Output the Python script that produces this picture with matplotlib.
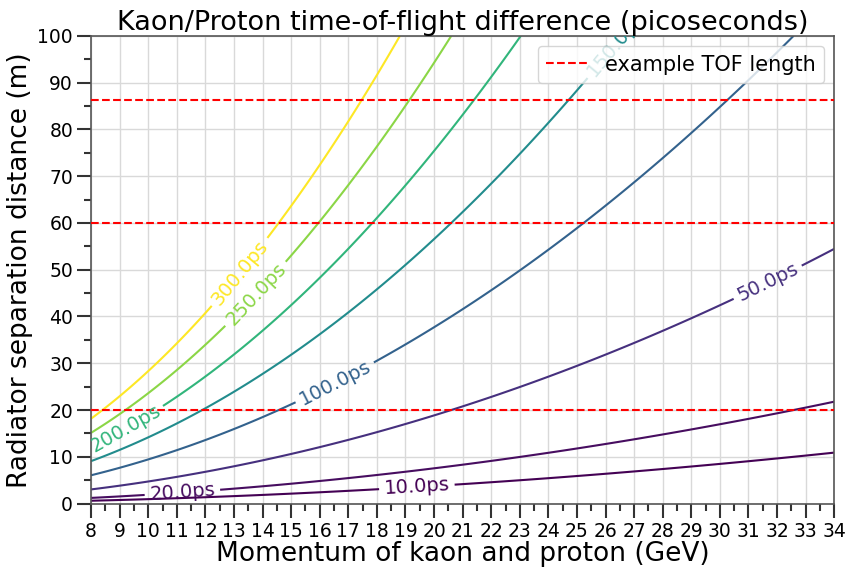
import numpy as np
import matplotlib
matplotlib.use("Agg")
import matplotlib.pyplot as plt
from matplotlib.ticker import MultipleLocator

# ---- data ----
momentum_range = [8, 34]          # GeV
distance_range = [0, 100]         # m
mass_kaon = 0.493677              # GeV
mass_proton = 0.938272            # GeV
levels_ps = [10, 20, 50, 100, 150, 200, 250, 300]
tof_lengths = [20, 60, 86.3]      # m
x_ticks = list(range(8, 35))
y_ticks = list(range(0, 101, 10))

# label anchor points (layout)
label_pos = [(19.4, 3.4), (11.2, 1.8), (32.1, 42), (16.6, 25), (26.6, 97),
             (9.2, 16), (13.9, 44), (13.3, 49)]

c_ps_per_m = 1e12 / 299792458.0
p = np.linspace(momentum_range[0], momentum_range[1], 400)
L = np.linspace(distance_range[0], distance_range[1], 400)
P, LL = np.meshgrid(p, L)
dt = LL * c_ps_per_m * (np.sqrt(1 + (mass_proton / P) ** 2) - np.sqrt(1 + (mass_kaon / P) ** 2))

fig = plt.figure(figsize=(8.68, 5.69), dpi=100)
ax = fig.add_axes([0.105, 0.115, 0.856, 0.822])

cs = ax.contour(P, LL, dt, levels=levels_ps, cmap="viridis", linewidths=1.5)
ax.clabel(cs, fmt="%.1fps", fontsize=14, inline=True, manual=label_pos)

for i, y in enumerate(tof_lengths):
    ax.axhline(y, color="red", linestyle="--", linewidth=1.5,
               label="example TOF length" if i == 0 else None, zorder=3)

ax.set_xlim(*momentum_range)
ax.set_ylim(*distance_range)
ax.set_xticks(x_ticks)
ax.set_yticks(y_ticks)
ax.xaxis.set_minor_locator(MultipleLocator(0.5))
ax.yaxis.set_minor_locator(MultipleLocator(5))
ax.grid(True, which="major", color="#d9d9d9", linewidth=1.0)
ax.set_axisbelow(True)
ax.tick_params(which="major", length=10, width=1.5, color="#333333", labelsize=13.5, pad=3)
ax.tick_params(which="minor", length=5, width=1.5, color="#333333")
for s in ax.spines.values():
    s.set_color("#555555")
    s.set_linewidth(1.2)

ax.set_xlabel("Momentum of kaon and proton (GeV)", fontsize=19, labelpad=0)
ax.set_ylabel("Radiator separation distance (m)", fontsize=19, labelpad=3)
ax.set_title("Kaon/Proton time-of-flight difference (picoseconds)", fontsize=19.5, pad=3)
ax.legend(loc="upper right", fontsize=15, framealpha=0.8)

fig.savefig("out.png", dpi=100)
